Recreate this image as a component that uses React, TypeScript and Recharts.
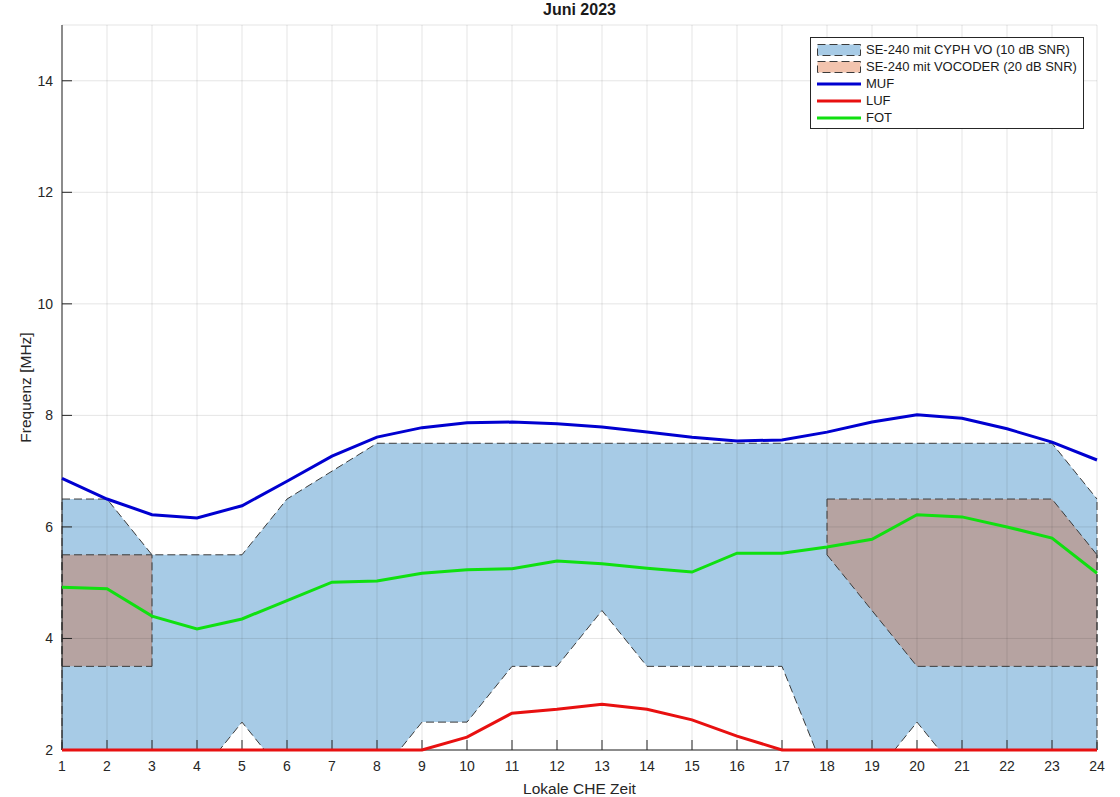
import React from 'react';
import { ComposedChart, Area, Line, XAxis, YAxis, CartesianGrid, Legend, ReferenceLine } from 'recharts';

const hours = [1, 2, 3, 4, 5, 6, 7, 8, 9, 10, 11, 12, 13, 14, 15, 16, 17, 18, 19, 20, 21, 22, 23, 24];
const muf = [6.87, 6.5, 6.22, 6.16, 6.38, 6.82, 7.27, 7.61, 7.78, 7.87, 7.88, 7.85, 7.79, 7.7, 7.61, 7.54, 7.56, 7.7, 7.88, 8.01, 7.95, 7.76, 7.52, 7.2];
const luf = [2, 2, 2, 2, 2, 2, 2, 2, 2, 2.23, 2.66, 2.73, 2.82, 2.73, 2.54, 2.25, 2, 2, 2, 2, 2, 2, 2, 2];
const fot = [4.92, 4.89, 4.4, 4.17, 4.35, 4.68, 5.01, 5.03, 5.17, 5.23, 5.25, 5.39, 5.34, 5.26, 5.19, 5.53, 5.53, 5.64, 5.78, 6.22, 6.18, 6.0, 5.8, 5.17];
// usable band for CYPH VO (low / high)
const cyphLow = [1.5, 1.5, 1.5, 1.5, 2.5, 1.5, 1.5, 1.5, 2.5, 2.5, 3.5, 3.5, 4.5, 3.5, 3.5, 3.5, 3.5, 1.5, 1.5, 2.5, 1.5, 1.5, 1.5, 1.5];
const cyphHigh = [6.5, 6.5, 5.5, 5.5, 5.5, 6.5, 7, 7.5, 7.5, 7.5, 7.5, 7.5, 7.5, 7.5, 7.5, 7.5, 7.5, 7.5, 7.5, 7.5, 7.5, 7.5, 7.5, 6.5];
// usable band for VOCODER, null = none
const vocLow = [3.5, 3.5, 3.5, null, null, null, null, null, null, null, null, null, null, null, null, null, null, 5.5, 4.5, 3.5, 3.5, 3.5, 3.5, 3.5];
const vocHigh = [5.5, 5.5, 5.5, null, null, null, null, null, null, null, null, null, null, null, null, null, null, 6.5, 6.5, 6.5, 6.5, 6.5, 6.5, 5.5];
const yTicks = [2, 4, 6, 8, 10, 12, 14];
const yDomain = [2, 15];

const CYPH_FILL = '#a7cbe6';
const VOC_FILL = '#b6a3a1';
const VOC_LEGEND = '#f2c4ae';
const EDGE = '#3a3a3a';
const FONT = '"Liberation Sans", Arial, Helvetica, sans-serif';
const AXIS = '#262626';

const data = hours.map((h, i) => ({
  h,
  cyph: [cyphLow[i], cyphHigh[i]],
  voc: vocLow[i] == null ? null : [vocLow[i], vocHigh[i]],
  muf: muf[i],
  luf: luf[i],
  fot: fot[i],
}));

// vertical closing edges of the band polygons (ends of each non-null run)
function bandEdges(low: (number | null)[], high: (number | null)[]) {
  const edges: { x: number; lo: number; hi: number }[] = [];
  for (let i = 0; i < low.length; i++) {
    if (low[i] == null) continue;
    const start = i === 0 || low[i - 1] == null;
    const end = i === low.length - 1 || low[i + 1] == null;
    if (start || end) edges.push({ x: hours[i], lo: Math.max(low[i] as number, yDomain[0]), hi: high[i] as number });
  }
  return edges;
}
const edges = [...bandEdges(cyphLow, cyphHigh), ...bandEdges(vocLow, vocHigh)];

const legendItems = [
  { label: 'SE-240 mit CYPH VO (10 dB SNR)', kind: 'area', color: CYPH_FILL },
  { label: 'SE-240 mit VOCODER (20 dB SNR)', kind: 'area', color: VOC_LEGEND },
  { label: 'MUF', kind: 'line', color: '#0000d0' },
  { label: 'LUF', kind: 'line', color: '#e81010' },
  { label: 'FOT', kind: 'line', color: '#10e010' },
];

const renderLegend = () => (
  <div style={{ border: '1px solid #262626', background: '#fff', padding: '3px 6px 2px 6px', fontFamily: FONT, fontSize: 13, color: '#1a1a1a', width: 260 }}>
    {legendItems.map((it) => (
      <div key={it.label} style={{ display: 'flex', alignItems: 'center', height: 17 }}>
        <svg width={44} height={14}>
          {it.kind === 'area' ? (
            <rect x={0.5} y={1.5} width={43} height={11} fill={it.color} stroke={EDGE} strokeDasharray="8 4" />
          ) : (
            <line x1={0} y1={7} x2={44} y2={7} stroke={it.color} strokeWidth={3} />
          )}
        </svg>
        <span style={{ marginLeft: 5, whiteSpace: 'nowrap' }}>{it.label}</span>
      </div>
    ))}
  </div>
);

export default function App() {
  return (
    <div style={{ position: 'absolute', left: 0, top: 0, width: 1120, height: 797, background: '#fff' }}>
      <div style={{ position: 'absolute', left: 62, width: 1035, top: 1, textAlign: 'center', fontFamily: FONT, fontWeight: 'bold', fontSize: 16, color: '#1a1a1a' }}>
        Juni 2023
      </div>
      <ComposedChart width={1120} height={797} data={data} margin={{ top: 25, right: 23, left: 0, bottom: 0 }}>
        <XAxis
          dataKey="h"
          type="number"
          domain={[1, 24]}
          ticks={hours}
          interval={0}
          height={47}
          stroke={AXIS}
          tickSize={-10}
          tickMargin={21}
          tick={{ fill: AXIS, fontSize: 14, fontFamily: FONT }}
          label={({ viewBox }: any) => (
            <text x={viewBox.x + viewBox.width / 2} y={788} textAnchor="middle" dominantBaseline="central" fill={AXIS} fontSize={15.5} fontFamily={FONT}>
              Lokale CHE Zeit
            </text>
          )}
        />
        <YAxis
          yAxisId="band"
          type="number"
          domain={yDomain}
          ticks={yTicks}
          allowDataOverflow
          width={62}
          stroke={AXIS}
          tickSize={-10}
          tickMargin={19}
          tick={{ fill: AXIS, fontSize: 14, fontFamily: FONT }}
          label={({ viewBox }: any) => {
            const cy = viewBox.y + viewBox.height / 2;
            return (
              <text x={25} y={cy} transform={`rotate(-90, 25, ${cy})`} textAnchor="middle" dominantBaseline="central" fill={AXIS} fontSize={15.5} fontFamily={FONT}>
                Frequenz [MHz]
              </text>
            );
          }}
        />
        <YAxis yAxisId="lines" type="number" domain={yDomain} ticks={yTicks} hide />
        <Area yAxisId="band" type="linear" dataKey="cyph" fill={CYPH_FILL} fillOpacity={1} stroke={EDGE} strokeDasharray="8 4" strokeWidth={1} isAnimationActive={false} />
        <Area yAxisId="band" type="linear" dataKey="voc" fill={VOC_FILL} fillOpacity={1} stroke={EDGE} strokeDasharray="8 4" strokeWidth={1} isAnimationActive={false} />
        {edges.map((e, i) => (
          <ReferenceLine
            key={i}
            yAxisId="band"
            segment={[{ x: e.x, y: e.lo }, { x: e.x, y: e.hi }]}
            stroke={EDGE}
            strokeDasharray="8 4"
            ifOverflow="visible"
          />
        ))}
        <CartesianGrid yAxisId="band" stroke="#262626" strokeOpacity={0.12} zIndex={150} />
        <Line yAxisId="lines" type="linear" dataKey="muf" stroke="#0000d0" strokeWidth={3} dot={false} isAnimationActive={false} zIndex={900} />
        <Line yAxisId="lines" type="linear" dataKey="luf" stroke="#e81010" strokeWidth={3} dot={false} isAnimationActive={false} zIndex={900} />
        <Line yAxisId="lines" type="linear" dataKey="fot" stroke="#10e010" strokeWidth={3} dot={false} isAnimationActive={false} zIndex={900} />
        <Legend
          layout="vertical"
          align="center"
          verticalAlign="middle"
          content={renderLegend}
          wrapperStyle={{ position: 'absolute', left: 810, top: 37, width: 274, height: 'auto' }}
        />
      </ComposedChart>
    </div>
  );
}
